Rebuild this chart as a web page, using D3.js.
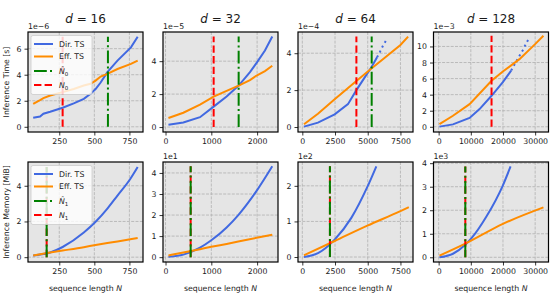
<!DOCTYPE html>
<html lang="en">
<head>
<meta charset="UTF-8"/>
<title>Inference time and memory of Dir. TS vs Eff. TS</title>
<script src="https://cdnjs.cloudflare.com/ajax/libs/d3/7.8.5/d3.min.js"></script>
<style>
  body { margin: 0; background: #fff; }
  svg text { font-family: "DejaVu Sans", sans-serif; fill: #1a1a1a; }
</style>
</head>
<body>
<script>
var w = 550;
var h = 300;

var dims = [16, 32, 64, 128];

// ---- inference time (top row), values in units of the offset (1e-6 ... 1e-3)
var t16N   = [64, 113, 137, 185, 274, 353, 425, 473, 509, 545, 593, 665, 761, 809];
var t16Dir = [0.69, 0.79, 1.0, 1.15, 1.46, 1.8, 2.15, 2.53, 2.9, 3.4, 4.2, 5.08, 6.1, 6.92];
var t16Eff = [1.76, 2.05, 2.2, 2.4, 2.66, 2.9, 3.17, 3.3, 3.55, 3.86, 4.06, 4.44, 4.83, 5.08];

var t32N   = [64, 389, 753, 1051, 1334, 1597, 1844, 1989, 2171, 2331];
var t32Dir = [0.14, 0.28, 0.6, 1.24, 1.85, 2.52, 3.33, 3.9, 4.65, 5.5];
var t32Eff = [0.55, 0.87, 1.36, 1.85, 2.2, 2.52, 2.85, 3.13, 3.4, 3.72];

var t64DirN  = [128, 1194, 2472, 3490, 4133, 4770, 5281, 5714];
var t64Dir   = [0.02, 0.24, 0.69, 1.24, 2.0, 2.69, 3.24, 3.78];
var t64ExtN  = [5714, 5918, 6173, 6505];
var t64Ext   = [3.78, 4.05, 4.42, 4.82];
var t64EffN  = [128, 1194, 2472, 4133, 5306, 6301, 7500, 8087];
var t64Eff   = [0.15, 0.72, 1.5, 2.5, 3.18, 3.75, 4.45, 4.9];

var t128DirN = [256, 4447, 9617, 12720, 16443, 19959, 22544];
var t128Dir  = [0.02, 0.3, 1.1, 2.2, 3.86, 5.55, 7.0];
var t128ExtN = [22544, 23370, 24095, 25129, 26163, 27404, 28230];
var t128Ext  = [7.0, 7.6, 8.13, 8.84, 9.54, 10.54, 11.1];
var t128EffN = [256, 4447, 9617, 16443, 19959, 25129, 29990, 32575];
var t128Eff  = [0.33, 1.37, 2.82, 5.73, 6.89, 8.42, 10.29, 11.33];

// ---- inference memory (bottom row), in units of the offset (none, 1e1, 1e2, 1e3 MiB)
var m16N   = [64, 185, 274, 425, 509, 593, 665, 756, 809];
var m16Dir = [0.1, 0.26, 0.57, 1.38, 1.98, 2.72, 3.45, 4.38, 5.05];
var m16Eff = [0.1, 0.26, 0.37, 0.56, 0.68, 0.79, 0.88, 1.0, 1.07];

var m32N   = [64, 389, 753, 1000, 1334, 1589, 1989, 2331];
var m32Dir = [0.02, 0.12, 0.45, 0.8, 1.41, 2.0, 3.15, 4.32];
var m32Eff = [0.08, 0.22, 0.38, 0.49, 0.63, 0.74, 0.92, 1.07];

var m64DirN = [128, 1199, 2472, 3745, 4970, 5658];
var m64Dir  = [0.0, 0.11, 0.49, 1.1, 1.97, 2.55];
var m64EffN = [128, 2472, 4970, 7500, 8138];
var m64Eff  = [0.05, 0.45, 0.88, 1.29, 1.4];

var m128DirN = [256, 4451, 8282, 10145, 14803, 19979, 22360];
var m128Dir  = [0.0, 0.15, 0.53, 0.8, 1.72, 3.06, 3.86];
var m128EffN = [256, 8282, 19979, 32575];
var m128Eff  = [0.07, 0.58, 1.42, 2.12];

// crossover points (vertical lines)
var nHat0 = [597, 1597, 5302, null];
var n0    = [274, 1051, 4133, 16443];
var nHat1 = [160, 549, 2110, 8290];
var n1    = [160, 549, 2110, 8290];

// axis ranges and ticks
var xDomains = [[27, 847], [-55, 2456], [-330, 8460], [-1600, 34150]];
var xTicks   = [[250, 500, 750], [0, 1000, 2000], [0, 2500, 5000, 7500], [0, 10000, 20000, 30000]];
var timeYDomains = [[-0.4, 7.28], [-0.3, 5.77], [-0.27, 5.15], [-0.65, 11.8]];
var timeYTicks   = [[0, 2, 4, 6], [0, 2, 4], [0, 2, 4], [0, 2, 4, 6, 8, 10]];
var timeOffsets  = ["1e\u22126", "1e\u22125", "1e\u22124", "1e\u22123"];
var memYDomains  = [[-0.27, 5.33], [-0.23, 4.52], [-0.14, 2.67], [-0.2, 4.05]];
var memYTicks    = [[0, 2, 4], [0, 1, 2, 3, 4], [0, 1, 2], [0, 1, 2, 3, 4]];
var memOffsets   = ["", "1e1", "1e2", "1e3"];

function zip(a, b) { return a.map(function(v, i) { return [v, b[i]]; }); }

var timeDir = [zip(t16N, t16Dir), zip(t32N, t32Dir), zip(t64DirN, t64Dir), zip(t128DirN, t128Dir)];
var timeExt = [[], [], zip(t64ExtN, t64Ext), zip(t128ExtN, t128Ext)];
var timeEff = [zip(t16N, t16Eff), zip(t32N, t32Eff), zip(t64EffN, t64Eff), zip(t128EffN, t128Eff)];
var memDir  = [zip(m16N, m16Dir), zip(m32N, m32Dir), zip(m64DirN, m64Dir), zip(m128DirN, m128Dir)];
var memEff  = [zip(m16N, m16Eff), zip(m32N, m32Eff), zip(m64EffN, m64Eff), zip(m128EffN, m128Eff)];

var blue = "#4169e1", orange = "#ff8c00", green = "#008000", red = "#ff0000";
var lefts = [28, 163, 298, 433.5];
var tops = [32, 162];
var pw = 115, ph = 100;
var fs = 7.8;

var svg = d3.select("body").append("svg")
    .attr("width", w)
    .attr("height", h);

function maxOf(arrs) {
    return d3.max(arrs, function(a) { return d3.max(a, function(d) { return d[1]; }); });
}

function drawPanel(p) {
    var x = d3.scaleLinear().domain(p.xDomain).range([p.left, p.left + pw]);
    var y = d3.scaleLinear().domain(p.yDomain).range([p.top + ph, p.top]);
    var g = svg.append("g");

    g.append("rect")
        .attr("x", p.left).attr("y", p.top)
        .attr("width", pw).attr("height", ph)
        .attr("fill", "#e5e5e5");

    // dashed grid
    g.append("g").selectAll("line")
        .data(p.xTicks).enter().append("line")
        .attr("x1", function(d) { return x(d); })
        .attr("x2", function(d) { return x(d); })
        .attr("y1", p.top).attr("y2", p.top + ph)
        .attr("stroke", "#b0b0b0").attr("stroke-width", 0.8)
        .attr("stroke-dasharray", "3,1.3");
    g.append("g").selectAll("line")
        .data(p.yTicks).enter().append("line")
        .attr("y1", function(d) { return y(d); })
        .attr("y2", function(d) { return y(d); })
        .attr("x1", p.left).attr("x2", p.left + pw)
        .attr("stroke", "#b0b0b0").attr("stroke-width", 0.8)
        .attr("stroke-dasharray", "3,1.3");

    var line = d3.line()
        .x(function(d) { return x(d[0]); })
        .y(function(d) { return y(d[1]); })
        .curve(p.curve);

    g.append("path").datum(p.dir)
        .attr("d", line).attr("fill", "none")
        .attr("stroke", blue).attr("stroke-width", 2);
    if (p.ext.length) {
        g.append("path").datum(p.ext)
            .attr("d", line).attr("fill", "none")
            .attr("stroke", blue).attr("stroke-width", 2)
            .attr("stroke-dasharray", "2,3.5");
    }
    g.append("path").datum(p.eff)
        .attr("d", line).attr("fill", "none")
        .attr("stroke", orange).attr("stroke-width", 2);

    // crossover lines: red first, green drawn over it
    var top = maxOf([p.dir, p.ext, p.eff]);
    if (p.vRed != null) {
        g.append("line")
            .attr("x1", x(p.vRed)).attr("x2", x(p.vRed))
            .attr("y1", y(0)).attr("y2", y(top))
            .attr("stroke", red).attr("stroke-width", 2)
            .attr("stroke-dasharray", "7.4,3.2");
    }
    if (p.vGreen != null) {
        g.append("line")
            .attr("x1", x(p.vGreen)).attr("x2", x(p.vGreen))
            .attr("y1", y(0)).attr("y2", y(top))
            .attr("stroke", green).attr("stroke-width", 2)
            .attr("stroke-dasharray", "12.8,3.2,2,3.2");
    }

    // axes
    var xAxis = d3.axisBottom(x).tickValues(p.xTicks).tickSize(3.5).tickPadding(3).tickFormat(d3.format("d"));
    var yAxis = d3.axisLeft(y).tickValues(p.yTicks).tickSize(3.5).tickPadding(3).tickFormat(d3.format("d"));
    var gx = g.append("g").attr("transform", "translate(0," + (p.top + ph) + ")").call(xAxis);
    var gy = g.append("g").attr("transform", "translate(" + p.left + ",0)").call(yAxis);
    [gx, gy].forEach(function(a) {
        a.select(".domain").remove();
        a.selectAll("line").attr("stroke", "#000").attr("stroke-width", 0.8);
        a.selectAll("text").attr("font-size", fs).attr("font-family", "DejaVu Sans").attr("fill", "#1a1a1a");
    });

    g.append("rect")
        .attr("x", p.left).attr("y", p.top)
        .attr("width", pw).attr("height", ph)
        .attr("fill", "none").attr("stroke", "#000").attr("stroke-width", 1.2);

    if (p.offset) {
        g.append("text")
            .attr("x", p.left).attr("y", p.top - 3.5)
            .attr("font-size", fs)
            .text(p.offset);
    }
}

function drawLegend(left, top, sub) {
    var lg = svg.append("g").attr("transform", "translate(" + (left + 3) + "," + (top + 3.5) + ")");
    lg.append("rect")
        .attr("width", 61).attr("height", 59).attr("rx", 2)
        .attr("fill", "#fff").attr("fill-opacity", 0.8)
        .attr("stroke", "#cccccc").attr("stroke-width", 0.8);
    var rows = [
        {c: blue, dash: null, label: "Dir. TS", y: 8.5},
        {c: orange, dash: null, label: "Eff. TS", y: 21},
        {c: green, dash: "12.8,3.2,2,3.2", label: "hat", y: 35.5},
        {c: red, dash: "7.4,3.2", label: "plain", y: 49.5}
    ];
    rows.forEach(function(r) {
        lg.append("line")
            .attr("x1", 3).attr("x2", 22)
            .attr("y1", r.y).attr("y2", r.y)
            .attr("stroke", r.c).attr("stroke-width", 2)
            .attr("stroke-dasharray", r.dash);
        var t = lg.append("text").attr("x", 28).attr("y", r.y + 2.8).attr("font-size", fs);
        if (r.label === "hat" || r.label === "plain") {
            t.append("tspan").attr("font-style", "italic")
                .text(r.label === "hat" ? "N\u0302" : "N");
            t.append("tspan").attr("dy", 1.8).attr("font-size", fs * 0.7).text(sub);
        } else {
            t.text(r.label);
        }
    });
}

dims.forEach(function(d, i) {
    drawPanel({
        left: lefts[i], top: tops[0],
        xDomain: xDomains[i], xTicks: xTicks[i],
        yDomain: timeYDomains[i], yTicks: timeYTicks[i],
        dir: timeDir[i], ext: timeExt[i], eff: timeEff[i],
        vRed: n0[i], vGreen: nHat0[i],
        offset: timeOffsets[i], curve: d3.curveLinear
    });
    drawPanel({
        left: lefts[i], top: tops[1],
        xDomain: xDomains[i], xTicks: xTicks[i],
        yDomain: memYDomains[i], yTicks: memYTicks[i],
        dir: memDir[i], ext: [], eff: memEff[i],
        vRed: n1[i], vGreen: nHat1[i],
        offset: memOffsets[i], curve: d3.curveMonotoneX
    });

    // panel title  d = ...
    var title = svg.append("text")
        .attr("x", lefts[i] + pw / 2).attr("y", 23)
        .attr("text-anchor", "middle").attr("font-size", 12);
    title.append("tspan").attr("font-style", "italic").text("d");
    title.append("tspan").text(" = " + d);

    // x label
    var xl = svg.append("text")
        .attr("x", lefts[i] + pw / 2).attr("y", 291)
        .attr("text-anchor", "middle").attr("font-size", fs);
    xl.append("tspan").text("sequence length ");
    xl.append("tspan").attr("font-style", "italic").text("N");
});

drawLegend(lefts[0], tops[0], "0");
drawLegend(lefts[0], tops[1], "1");

// y labels
svg.append("text")
    .attr("transform", "translate(9," + (tops[0] + ph / 2) + ") rotate(-90)")
    .attr("text-anchor", "middle").attr("font-size", fs)
    .text("Inference Time [s]");
svg.append("text")
    .attr("transform", "translate(9," + (tops[1] + ph / 2) + ") rotate(-90)")
    .attr("text-anchor", "middle").attr("font-size", fs)
    .text("Inference Memory [MiB]");
</script>
</body>
</html>
